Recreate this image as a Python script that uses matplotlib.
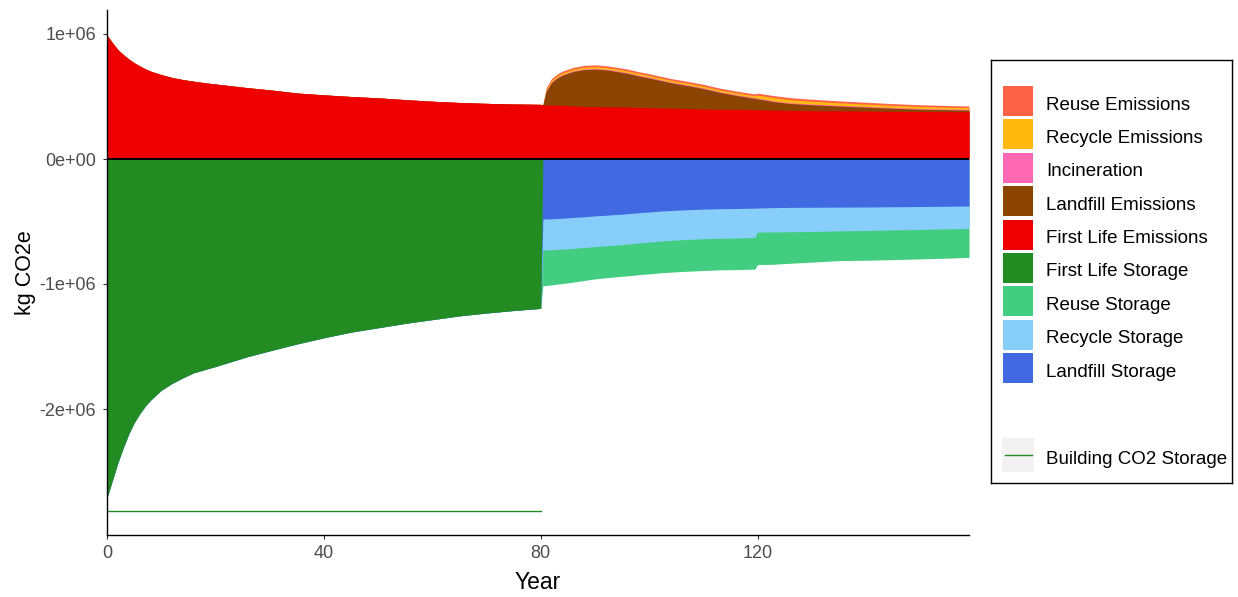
import numpy as np
import matplotlib.pyplot as plt
from matplotlib.patches import Rectangle

plt.rcParams['font.family'] = ['Liberation Sans', 'DejaVu Sans']

# years: first building life (0-80) then end-of-life phase (80-159)
year_a = [0, 1, 2, 3, 4, 5, 6, 7, 8, 10, 12, 14, 16, 18, 20, 23, 26, 30, 35, 40,
          45, 50, 55, 60, 65, 70, 75, 80]
year_b = [80.4, 81, 82, 83, 84, 86, 88, 90, 92, 94, 96, 98, 100, 102, 104, 106,
          108, 110, 113, 116, 119.5, 120, 123, 126, 130, 135, 140, 145, 150, 155, 159]
year = year_a + year_b
n_a = len(year_a)
n_b = len(year_b)

# values in million kg CO2e
first_life_emissions = [0.990, 0.930, 0.875, 0.835, 0.800, 0.770, 0.745, 0.722, 0.703, 0.675,
                        0.652, 0.635, 0.622, 0.610, 0.600, 0.585, 0.570, 0.553, 0.528, 0.513,
                        0.500, 0.489, 0.475, 0.462, 0.452, 0.445, 0.440, 0.437,
                        0.433, 0.432, 0.432, 0.431, 0.430, 0.425, 0.420, 0.419, 0.418, 0.417,
                        0.416, 0.413, 0.410, 0.409, 0.407, 0.405, 0.403, 0.400, 0.398, 0.397,
                        0.395, 0.394, 0.391, 0.389, 0.387, 0.386, 0.384, 0.382, 0.380, 0.379, 0.378]
landfill_emissions = [0.0] * n_a + [0.0, 0.11, 0.18, 0.215, 0.24, 0.275, 0.295, 0.30, 0.295, 0.283,
                                    0.269, 0.252, 0.238, 0.22, 0.203, 0.19, 0.177, 0.163, 0.135, 0.112,
                                    0.09, 0.087, 0.068, 0.055, 0.047, 0.038, 0.031, 0.024, 0.018, 0.015, 0.013]
incineration = [0.0] * n_a + [0.0, 0.005, 0.006, 0.006, 0.006, 0.006, 0.006, 0.006, 0.006, 0.006,
                              0.006, 0.006, 0.006, 0.006, 0.006, 0.006, 0.006, 0.006, 0.006, 0.006,
                              0.006, 0.006, 0.006, 0.006, 0.006, 0.006, 0.006, 0.006, 0.006, 0.006, 0.006]
recycle_emissions = [0.0] * n_a + [0.0, 0.010, 0.012, 0.013, 0.013, 0.013, 0.014, 0.014, 0.014, 0.014,
                                   0.014, 0.014, 0.014, 0.014, 0.014, 0.014, 0.014, 0.014, 0.014, 0.015,
                                   0.015, 0.024, 0.026, 0.025, 0.022, 0.020, 0.018, 0.017, 0.016, 0.015, 0.014]
reuse_emissions = [0.0] * n_a + [0.0, 0.012, 0.014, 0.014, 0.014, 0.014, 0.014, 0.014, 0.014, 0.014,
                                 0.014, 0.014, 0.014, 0.014, 0.014, 0.014, 0.014, 0.014, 0.014, 0.014,
                                 0.014, 0.016, 0.016, 0.016, 0.016, 0.015, 0.015, 0.014, 0.014, 0.013, 0.013]

first_life_storage = [-2.710, -2.570, -2.430, -2.310, -2.200, -2.110, -2.040, -1.980, -1.930, -1.850,
                      -1.795, -1.750, -1.710, -1.685, -1.660, -1.620, -1.580, -1.535, -1.480, -1.430,
                      -1.385, -1.350, -1.315, -1.285, -1.255, -1.232, -1.212, -1.195] + [0.0] * n_b
landfill_storage = [0.0] * n_a + [-0.480, -0.480, -0.478, -0.476, -0.474, -0.468, -0.462, -0.455, -0.450, -0.444,
                                  -0.438, -0.430, -0.424, -0.417, -0.412, -0.408, -0.404, -0.401, -0.398, -0.396,
                                  -0.393, -0.392, -0.389, -0.387, -0.386, -0.385, -0.384, -0.382, -0.380, -0.378, -0.376]
recycle_storage = [0.0] * n_a + [-0.248, -0.248, -0.248, -0.247, -0.247, -0.247, -0.246, -0.246, -0.245, -0.244,
                                 -0.243, -0.242, -0.241, -0.240, -0.239, -0.238, -0.238, -0.237, -0.236, -0.236,
                                 -0.235, -0.193, -0.195, -0.195, -0.194, -0.190, -0.188, -0.185, -0.183, -0.181, -0.179]
reuse_storage = [0.0] * n_a + [-0.285, -0.284, -0.281, -0.278, -0.275, -0.270, -0.264, -0.258, -0.255, -0.254,
                               -0.254, -0.254, -0.254, -0.254, -0.254, -0.254, -0.254, -0.254, -0.253, -0.253,
                               -0.253, -0.260, -0.258, -0.252, -0.245, -0.238, -0.238, -0.238, -0.236, -0.234, -0.232]

building_years = [0, 80]
building_storage = [-2.816, -2.816]

scale = 1e6

# stacking order, nearest to zero first
pos_names = ['First Life Emissions', 'Landfill Emissions', 'Incineration', 'Recycle Emissions', 'Reuse Emissions']
pos_series = [first_life_emissions, landfill_emissions, incineration, recycle_emissions, reuse_emissions]
neg_names = ['First Life Storage', 'Landfill Storage', 'Recycle Storage', 'Reuse Storage']
neg_series = [first_life_storage, landfill_storage, recycle_storage, reuse_storage]

colors = {
    'Reuse Emissions': '#FF6347',
    'Recycle Emissions': '#FFB90F',
    'Incineration': '#FF69B4',
    'Landfill Emissions': '#8B4500',
    'First Life Emissions': '#EE0000',
    'First Life Storage': '#228B22',
    'Reuse Storage': '#43CD80',
    'Recycle Storage': '#87CEFA',
    'Landfill Storage': '#4169E1',
}
legend_order = ['Reuse Emissions', 'Recycle Emissions', 'Incineration', 'Landfill Emissions',
                'First Life Emissions', 'First Life Storage', 'Reuse Storage', 'Recycle Storage',
                'Landfill Storage']

W, H = 1238, 597
fig = plt.figure(figsize=(W / 100, H / 100), dpi=100)
ax = fig.add_axes([107 / W, 1 - 535 / H, (969 - 107) / W, (535 - 10) / H])

x = np.array(year)
pos_cum = np.cumsum(np.array(pos_series) * scale, axis=0)
neg_cum = np.cumsum(np.array(neg_series) * scale, axis=0)

# draw outermost totals first so the inner layers cover them without seams
for k in reversed(range(len(pos_names))):
    ax.fill_between(x, 0, pos_cum[k], color=colors[pos_names[k]], linewidth=0)
for k in reversed(range(len(neg_names))):
    ax.fill_between(x, 0, neg_cum[k], color=colors[neg_names[k]], linewidth=0)

ax.axhline(0, color='black', linewidth=1.4)
ax.plot(building_years, np.array(building_storage) * scale, color='#228B22', linewidth=1.0)

ax.set_xlim(0, 159)
ax.set_ylim(-3.008e6, 1.192e6)
ax.set_xticks([0, 40, 80, 120])
ax.set_yticks([-2e6, -1e6, 0, 1e6])
ax.set_yticklabels(['-2e+06', '-1e+06', '0e+00', '1e+06'])
for s in ['top', 'right']:
    ax.spines[s].set_visible(False)
for s in ['left', 'bottom']:
    ax.spines[s].set_color('black')
    ax.spines[s].set_linewidth(1.0)
ax.tick_params(length=3, width=0.8, color='#333333', labelcolor='#4D4D4D', labelsize=13)
ax.tick_params(axis='y', pad=5)
ax.tick_params(axis='x', pad=4)
ax.set_xlabel('Year', fontsize=16.5, labelpad=7)
ax.set_ylabel('kg CO2e', fontsize=15.5, labelpad=2)

# legend panel
lax = fig.add_axes([991 / W, 1 - 483 / H, 241 / W, 423 / H])
lax.set_xlim(0, 241)
lax.set_ylim(423, 0)
lax.set_xticks([])
lax.set_yticks([])
for s in lax.spines.values():
    s.set_color('black')
    s.set_linewidth(1.0)

for i, name in enumerate(legend_order):
    top = 26 + 33.4 * i
    lax.add_patch(Rectangle((12, top), 30, 30, facecolor=colors[name], edgecolor='none'))
    lax.text(55, top + 19, name, va='center', ha='left', fontsize=13.5, color='black')

lax.add_patch(Rectangle((11, 378), 32, 34, facecolor='#F2F2F2', edgecolor='none'))
lax.plot([14, 41], [395, 395], color='#228B22', linewidth=1.0)
lax.text(55, 399, 'Building CO2 Storage', va='center', ha='left', fontsize=13.5, color='black')

fig.savefig('out.png', dpi=100)
